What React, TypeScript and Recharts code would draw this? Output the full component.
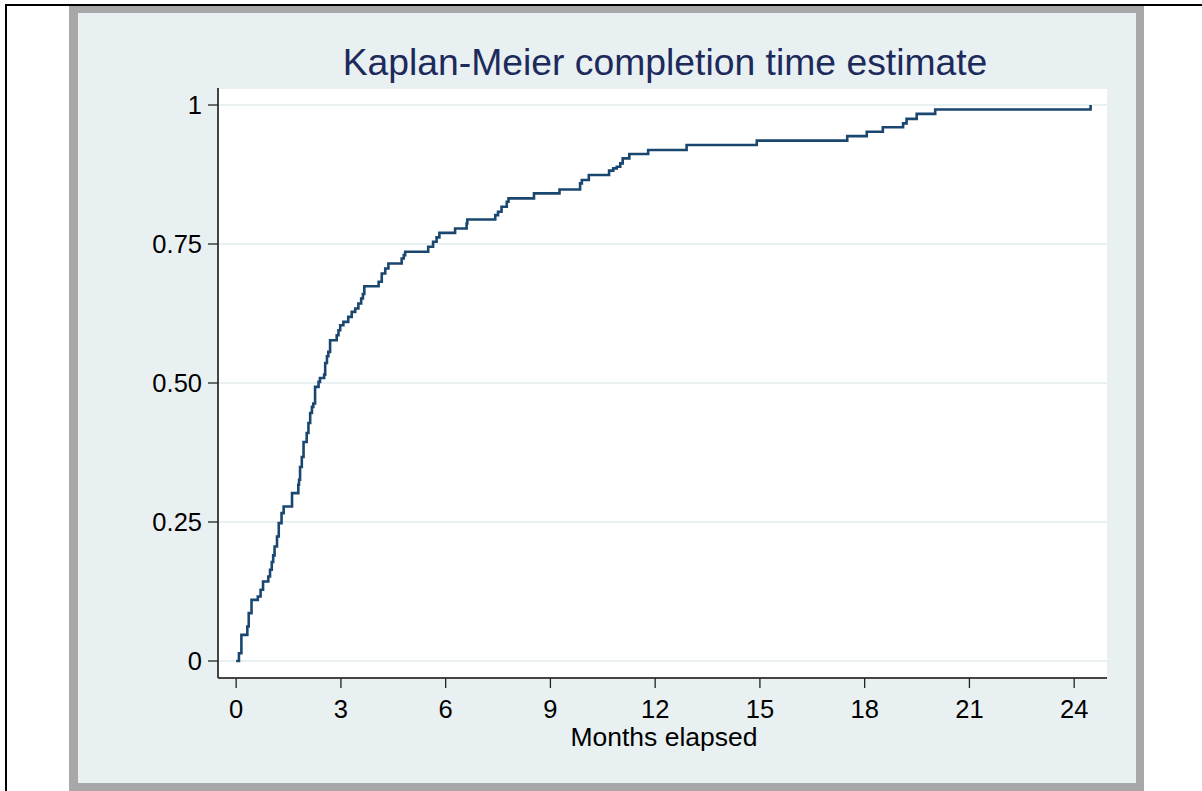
import { LineChart, Line, XAxis, YAxis, CartesianGrid } from "recharts";

// Kaplan-Meier failure (completion) estimate
const months = [
  0, 0.08, 0.15, 0.32, 0.36, 0.44, 0.62, 0.7, 0.77, 0.92, 0.97, 1.02, 1.06, 1.1, 1.17, 1.22, 1.3, 1.36,
  1.6, 1.78, 1.8, 1.83, 1.88, 1.93, 2.02, 2.07, 2.12, 2.17, 2.21, 2.26, 2.36, 2.4, 2.52, 2.55, 2.6, 2.64,
  2.69, 2.88, 2.93, 2.98, 3.07, 3.21, 3.31, 3.41, 3.5, 3.58, 3.63, 3.67, 4.08, 4.17, 4.27, 4.36, 4.74,
  4.8, 4.84, 5.5, 5.64, 5.74, 5.82, 6.27, 6.6, 6.62, 7.42, 7.5, 7.6, 7.75, 7.8, 8.53, 9.26, 9.85, 9.9,
  10.1, 10.68, 10.8, 10.9, 11.0, 11.07, 11.26, 11.8, 12.9, 14.91, 17.5, 18.06, 18.52, 19.1, 19.2, 19.49,
  20.02, 24.47,
];

const completed = [
  0, 0.014, 0.047, 0.062, 0.086, 0.11, 0.116, 0.128, 0.143, 0.152, 0.164, 0.178, 0.19, 0.206, 0.224,
  0.248, 0.266, 0.278, 0.302, 0.317, 0.326, 0.349, 0.367, 0.394, 0.41, 0.428, 0.446, 0.457, 0.463, 0.493,
  0.502, 0.509, 0.515, 0.536, 0.548, 0.556, 0.577, 0.586, 0.595, 0.604, 0.61, 0.619, 0.628, 0.634, 0.643,
  0.652, 0.66, 0.674, 0.682, 0.697, 0.706, 0.715, 0.724, 0.73, 0.736, 0.745, 0.754, 0.762, 0.77, 0.778,
  0.787, 0.794, 0.802, 0.808, 0.817, 0.826, 0.832, 0.841, 0.848, 0.859, 0.865, 0.874, 0.882, 0.886, 0.889,
  0.895, 0.904, 0.912, 0.919, 0.928, 0.936, 0.944, 0.952, 0.96, 0.967, 0.975, 0.984, 0.992, 1.0,
];

const xTicks = [0, 3, 6, 9, 12, 15, 18, 21, 24];
const yTicks = [0, 0.25, 0.5, 0.75, 1];
const yTickLabels = ["0", "0.25", "0.50", "0.75", "1"];

const data = months.map((t, i) => ({ t, s: completed[i] }));

const FONT = "Arial, 'Liberation Sans', sans-serif";
const BG = "#E9F0F2";

export default function App() {
  return (
    <div style={{ position: "absolute", left: 0, top: 0, width: 1202, height: 791, background: "#fff", overflow: "hidden" }}>
      {/* page frame lines */}
      <div style={{ position: "absolute", left: 5, top: 4, width: 1197, height: 2, background: "#000" }} />
      <div style={{ position: "absolute", left: 5, top: 4, width: 2, height: 787, background: "#000" }} />
      {/* graph region */}
      <div style={{ position: "absolute", left: 69, top: 6, width: 1075, height: 785, background: "#A8A8A8" }} />
      <div style={{ position: "absolute", left: 78, top: 13, width: 1058, height: 770, background: BG }} />

      <div style={{ position: "absolute", left: 0, top: 0 }}>
        <LineChart width={1202} height={791} data={data} margin={{ top: 88, right: 95, bottom: 0, left: 0 }}>
          <CartesianGrid vertical={false} stroke={BG} strokeWidth={2} fill="#fff" />
          <XAxis
            dataKey="t"
            type="number"
            domain={[-0.52, 24.94]}
            ticks={xTicks}
            allowDataOverflow
            height={113}
            tickSize={10}
            tickMargin={12}
            axisLine={{ stroke: "#444", strokeWidth: 2 }}
            tickLine={{ stroke: "#222", strokeWidth: 1.3 }}
            tick={{ fill: "#000", fontSize: 25.5, fontFamily: FONT }}
          />
          <YAxis
            type="number"
            domain={[-0.0306, 1.0306]}
            ticks={yTicks}
            allowDataOverflow
            width={218}
            tickSize={10}
            tickMargin={6}
            tickFormatter={(v: number) => yTickLabels[yTicks.indexOf(v)] ?? String(v)}
            axisLine={{ stroke: "#444", strokeWidth: 2 }}
            tickLine={{ stroke: "#222", strokeWidth: 1.3 }}
            tick={{ fill: "#000", fontSize: 25.5, fontFamily: FONT }}
          />
          <Line
            type="stepAfter"
            dataKey="s"
            stroke="#1A476F"
            strokeWidth={2.6}
            dot={false}
            activeDot={false}
            isAnimationActive={false}
          />
        </LineChart>
      </div>

      {/* title and axis title */}
      <svg width={1202} height={791} style={{ position: "absolute", left: 0, top: 0, pointerEvents: "none" }}>
        <text x={665} y={75} textAnchor="middle" fontFamily={FONT} fontSize={37.3} fill="#1C2A5C">
          Kaplan-Meier completion time estimate
        </text>
        <text x={664} y={746} textAnchor="middle" fontFamily={FONT} fontSize={26.5} fill="#000">
          Months elapsed
        </text>
      </svg>
    </div>
  );
}
